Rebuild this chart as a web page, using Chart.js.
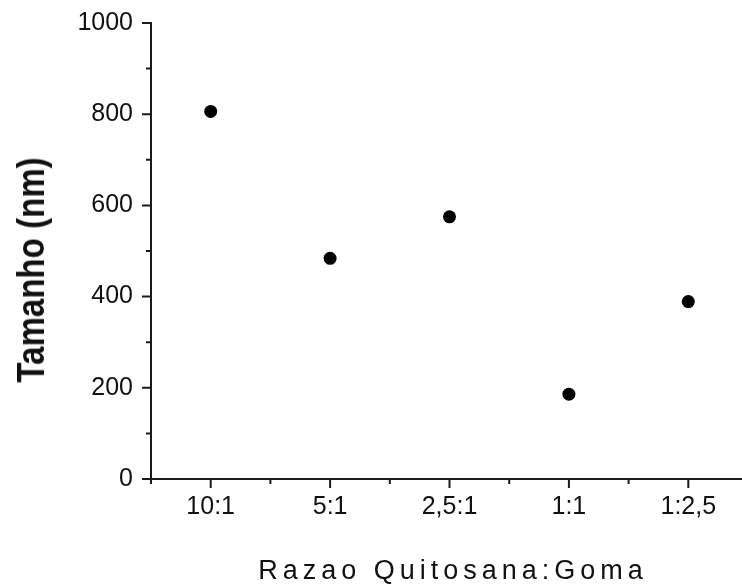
<!DOCTYPE html>
<html>
<head>
<meta charset="utf-8">
<script src="https://cdn.jsdelivr.net/npm/chart.js@4/dist/chart.umd.min.js"></script>
<style>
    html, body { margin: 0; padding: 0; background: #fff; }
    #wrap { position: relative; width: 742px; height: 586px; overflow: hidden; }
    #chart_tamanho { position: absolute; left: 0; top: 0; }
    .axis-title { position: absolute; white-space: nowrap; line-height: 1; color: #111;
                  font-family: "Liberation Sans", Arial, sans-serif; }
    #title_y { left: 31px; top: 270px; font-size: 38px; font-weight: bold;
               transform: translate(-50%, -50%) rotate(-90deg) scaleX(0.87); }
    #title_x { left: 453px; top: 557px; font-size: 27px; letter-spacing: 5px;
               transform: translateX(-50%); }
</style>
</head>
<body>
<div id="wrap">
    <canvas id="chart_tamanho" width="750" height="586"></canvas>
    <div class="axis-title" id="title_y">Tamanho (nm)</div>
    <div class="axis-title" id="title_x">Razao Quitosana:Goma</div>
</div>
<script>
const categories = ['10:1', '5:1', '2,5:1', '1:1', '1:2,5'];
const tamanho = [806, 484, 575, 186, 389];
const yTicks = [0, 200, 400, 600, 800, 1000];

document.addEventListener('DOMContentLoaded', function () {
    const chartElement = document.getElementById('chart_tamanho');
    if (!chartElement) {
        console.error('Element with id "chart_tamanho" not found');
        return;
    }

    const axisColor = '#1a1a1a';
    const fontFamily = '"Liberation Sans", Arial, sans-serif';

    // Tick marks drawn outside the axes: long ones on labels, short ones in between
    const axisTicksPlugin = {
        id: 'axisTicks',
        afterDraw(chart) {
            const { ctx, chartArea } = chart;
            const x = chart.scales.x;
            const y = chart.scales.y;
            ctx.save();
            ctx.strokeStyle = axisColor;
            ctx.lineWidth = 2;
            ctx.beginPath();

            yTicks.forEach((v, i) => {
                const py = y.getPixelForValue(v);
                ctx.moveTo(chartArea.left - 9, py);
                ctx.lineTo(chartArea.left, py);
                if (i < yTicks.length - 1) {
                    const pm = y.getPixelForValue((v + yTicks[i + 1]) / 2);
                    ctx.moveTo(chartArea.left - 5, pm);
                    ctx.lineTo(chartArea.left, pm);
                }
            });

            for (let i = 0; i <= categories.length; i++) {
                if (i < categories.length) {
                    const px = x.getPixelForValue(i);
                    ctx.moveTo(px, chartArea.bottom);
                    ctx.lineTo(px, chartArea.bottom + 9);
                }
                const pm = x.getPixelForValue(i - 0.5);
                ctx.moveTo(pm, chartArea.bottom);
                ctx.lineTo(pm, chartArea.bottom + 5);
            }

            ctx.stroke();
            ctx.restore();
        }
    };

    new Chart(chartElement.getContext('2d'), {
        type: 'line',
        data: {
            labels: categories,
            datasets: [{
                label: 'Tamanho',
                data: tamanho,
                showLine: false,
                pointStyle: 'circle',
                pointRadius: 6.5,
                pointHoverRadius: 6.5,
                pointBackgroundColor: '#000',
                pointBorderColor: '#000',
                pointBorderWidth: 0
            }]
        },
        plugins: [axisTicksPlugin],
        options: {
            responsive: false,
            animation: false,
            layout: {
                autoPadding: false,
                padding: { top: 23, right: 2, bottom: 0, left: 0 }
            },
            plugins: {
                legend: { display: false },
                tooltip: { enabled: false }
            },
            scales: {
                x: {
                    type: 'category',
                    offset: true,
                    grid: { display: false, drawTicks: false },
                    border: { display: true, color: axisColor, width: 2 },
                    ticks: {
                        color: '#111',
                        font: { family: fontFamily, size: 25 },
                        padding: 13,
                        maxRotation: 0,
                        autoSkip: false
                    },
                    afterFit: function (scale) {
                        scale.height = 107;
                    }
                },
                y: {
                    min: 0,
                    max: 1000,
                    // tick marks come from the plugin; tickLength only spaces the labels
                    grid: { display: false, drawTicks: true, tickLength: 15 },
                    border: { display: true, color: axisColor, width: 2 },
                    ticks: {
                        stepSize: 200,
                        color: '#111',
                        font: { family: fontFamily, size: 25 },
                        padding: 3,
                        callback: function (value) {
                            return String(value);
                        }
                    },
                    afterFit: function (scale) {
                        scale.width = 151;
                    }
                }
            }
        }
    });
});
</script>
</body>
</html>
